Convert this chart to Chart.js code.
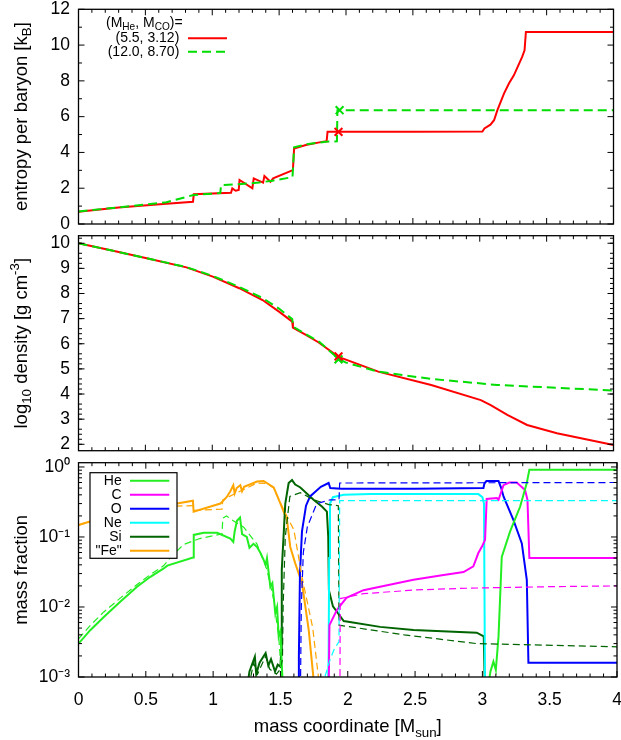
<!DOCTYPE html>
<html><head><meta charset="utf-8">
<script src="https://cdn.jsdelivr.net/npm/chart.js@4.4.1/dist/chart.umd.min.js"></script>
<style>
html,body{margin:0;padding:0;background:#fff;width:621px;height:740px;overflow:hidden}
canvas{position:absolute;left:0}
</style></head><body>
<canvas id="c1" width="621" height="236" style="top:0px"></canvas>
<canvas id="c2" width="621" height="232" style="top:228px"></canvas>
<canvas id="c3" width="621" height="285" style="top:455px"></canvas>
<script>
// ---------- tick labels ----------
const massTicks = [0, 0.5, 1, 1.5, 2, 2.5, 3, 3.5, 4];
const massTickLabels = ['0', '0.5', '1', '1.5', '2', '2.5', '3', '3.5', '4'];
const entropyTicks = [0, 2, 4, 6, 8, 10, 12];
const densityTicks = [2, 3, 4, 5, 6, 7, 8, 9, 10];
const fractionTicks = [0.001, 0.01, 0.1, 1];
const fractionTickLabels = ['10\u207B\u00B3', '10\u207B\u00B2', '10\u207B\u00B9', '10\u2070'];

// ---------- series names ----------
const modelLabels = ['(5.5, 3.12)', '(12.0, 8.70)'];
const elementLabels = ['He', 'C', 'O', 'Ne', 'Si', '"Fe"'];

// ---------- entropy panel ----------
const entropyMassA = [0, 0.3, 0.633, 0.856, 0.862, 1.14, 1.15, 1.175, 1.198, 1.204, 1.30, 1.31, 1.38, 1.39, 1.435, 1.455, 1.603, 1.612, 1.70, 1.82, 1.855, 1.862, 2.5, 3.02, 3.035, 3.08, 3.107, 3.132, 3.181, 3.218, 3.255, 3.317, 3.335, 3.345, 4.0];
const entropyA = [0.69, 0.92, 1.12, 1.245, 1.66, 1.75, 1.99, 1.86, 1.90, 2.46, 1.99, 2.55, 2.31, 2.68, 2.36, 2.55, 3.01, 4.22, 4.42, 4.59, 4.62, 5.15, 5.15, 5.17, 5.34, 5.55, 5.80, 6.36, 7.29, 7.85, 8.31, 9.34, 9.71, 10.73, 10.73];
const entropyMassB = [0, 0.3, 0.658, 0.86, 1.06, 1.066, 1.2, 1.35, 1.45, 1.6, 1.612, 1.7, 1.85, 1.932, 1.936, 4.0];
const entropyB = [0.70, 0.93, 1.22, 1.62, 1.73, 2.18, 2.22, 2.32, 2.42, 2.62, 4.29, 4.45, 4.60, 4.62, 6.36, 6.36];
const markerMass = [1.944, 1.952];
const markerEntropy = [5.15, 6.36];

// ---------- density panel ----------
const densityMassA = [0, 0.25, 0.51, 0.807, 1.004, 1.202, 1.376, 1.499, 1.598, 1.603, 1.70, 1.796, 1.944, 2.241, 2.637, 3.008, 3.082, 3.206, 3.354, 3.577, 4.0];
const densityA = [10.0, 9.71, 9.40, 9.04, 8.67, 8.21, 7.74, 7.28, 6.88, 6.64, 6.35, 6.05, 5.48, 4.89, 4.36, 3.76, 3.56, 3.17, 2.77, 2.44, 1.97];
const densityMassB = [0, 0.25, 0.51, 0.807, 1.004, 1.202, 1.376, 1.499, 1.598, 1.605, 1.70, 1.80, 1.944, 2.0, 2.241, 2.637, 3.132, 3.6, 4.0];
const densityB = [10.0, 9.71, 9.40, 9.05, 8.70, 8.26, 7.82, 7.40, 6.98, 6.68, 6.38, 6.08, 5.40, 5.25, 4.89, 4.60, 4.36, 4.24, 4.14];
const markerDensity = [5.50, 5.38];

// ---------- mass fraction panel (A = solid, B = dashed) ----------
const heMassA = [0, 0.089, 0.188, 0.312, 0.435, 0.534, 0.633, 0.66, 0.851, 0.856, 0.93, 1.03, 1.128, 1.15, 1.16, 1.177, 1.20, 1.215, 1.25, 1.27, 1.30, 1.326, 1.35, 1.375, 1.39, 1.40, 1.425, 1.44, 1.462, 1.475, 1.487, 1.50, 1.512, 1.522, 3.03, 3.06, 3.082, 3.10, 3.12, 3.144, 3.206, 3.28, 3.33, 3.349, 4.0];
const heA = [3.0e-3, 4.7e-3, 7.2e-3, 1.2e-2, 1.95e-2, 2.7e-2, 3.55e-2, 3.9e-2, 5.1e-2, 0.107, 0.115, 0.115, 0.095, 0.085, 0.12, 0.17, 0.19, 0.11, 0.10, 0.07, 0.08, 0.072, 0.06, 0.047, 0.04, 0.05, 0.0195, 0.022, 8.1e-3, 0.01, 3.8e-3, 4.5e-3, 1.26e-3, 5e-4, 5e-4, 1.2e-3, 1.66e-3, 1.26e-3, 3.8e-3, 5.2e-2, 0.12, 0.27, 0.59, 0.91, 0.91];
const heMassB = [0, 0.089, 0.188, 0.312, 0.435, 0.534, 0.633, 0.70, 0.78, 0.90, 1.03, 1.066, 1.072, 1.10, 1.15, 1.227, 1.326, 1.40, 1.45, 1.487, 1.505, 1.52];
const heB = [3.5e-3, 5.5e-3, 8.5e-3, 1.35e-2, 2.1e-2, 2.9e-2, 3.9e-2, 5.5e-2, 7.8e-2, 0.095, 0.107, 0.11, 0.186, 0.20, 0.17, 0.138, 0.079, 0.034, 0.0126, 3.8e-3, 1.26e-3, 5e-4];

const cMassA = [1.858, 1.864, 1.92, 1.99, 2.117, 2.24, 2.488, 2.7, 2.86, 2.933, 2.97, 3.0, 3.02, 3.032, 3.107, 3.12, 3.157, 3.2, 3.255, 3.317, 3.335, 3.349, 4.0];
const cA = [5e-4, 5.5e-3, 9.1e-3, 1.35e-2, 1.74e-2, 1.95e-2, 2.45e-2, 2.85e-2, 3.16e-2, 3.8e-2, 5.9e-2, 7.5e-2, 9.1e-2, 0.35, 0.36, 0.34, 0.55, 0.60, 0.60, 0.47, 0.34, 0.05, 0.05];
const cMassB = [1.942, 1.944, 2.117, 2.5, 2.909, 3.5, 4.0];
const cB = [5e-4, 1.32e-2, 1.55e-2, 1.75e-2, 1.86e-2, 1.95e-2, 2.0e-2];

const oMassA = [1.632, 1.637, 1.645, 1.66, 1.69, 1.72, 1.80, 1.858, 1.87, 1.95, 2.5, 3.008, 3.015, 3.03, 3.12, 3.14, 3.157, 3.231, 3.293, 3.33, 3.342, 4.0];
const oA = [5e-4, 2e-3, 0.03, 0.12, 0.28, 0.38, 0.52, 0.59, 0.50, 0.49, 0.49, 0.50, 0.58, 0.63, 0.63, 0.50, 0.38, 0.174, 0.081, 0.0245, 1.6e-3, 1.6e-3];
const oMassB = [1.648, 1.655, 1.67, 1.70, 1.77, 1.87, 1.935, 1.94, 4.0];
const oB = [5e-4, 0.01, 0.06, 0.14, 0.30, 0.34, 0.34, 0.59, 0.60];

const neMassA = [1.852, 1.858, 1.862, 1.868, 1.89, 1.97, 2.17, 2.97, 3.0, 3.012, 3.02];
const neA = [5e-4, 2e-3, 0.05, 0.30, 0.37, 0.40, 0.41, 0.41, 0.37, 0.30, 5e-4];
const neMassB = [1.80, 1.83, 1.87, 1.90, 1.935, 1.94, 4.0];
const neB = [5e-4, 1.0e-3, 1.8e-3, 2.5e-3, 3.2e-3, 0.33, 0.33];

const siMassA = [1.24, 1.27, 1.31, 1.32, 1.345, 1.39, 1.41, 1.43, 1.46, 1.48, 1.50, 1.505, 1.51, 1.536, 1.561, 1.586, 1.61, 1.648, 1.746, 1.81, 1.845, 1.855, 1.86, 1.89, 1.97, 2.24, 2.488, 2.958, 3.01, 3.02];
const siA = [5e-4, 1.2e-3, 1.95e-3, 1.1e-3, 1.6e-3, 2.2e-3, 1.45e-3, 1.8e-3, 1.2e-3, 1.5e-3, 1.4e-3, 2.2e-3, 3.4e-2, 0.30, 0.59, 0.65, 0.56, 0.51, 0.34, 0.27, 0.23, 0.10, 1.74e-2, 1.02e-2, 6.3e-3, 5.2e-3, 4.7e-3, 4.3e-3, 3.8e-3, 5e-4];
const siMassB = [1.25, 1.30, 1.33, 1.39, 1.42, 1.47, 1.50, 1.515, 1.52, 1.536, 1.57, 1.648, 1.746, 1.86, 1.93, 1.935, 2.42, 2.958, 4.0];
const siB = [5e-4, 1.6e-3, 1.1e-3, 2.0e-3, 1.3e-3, 1.1e-3, 1.3e-3, 1.8e-3, 1.0e-2, 0.10, 0.38, 0.43, 0.34, 0.29, 0.28, 5.5e-3, 4.0e-3, 3.0e-3, 2.7e-3];

const feMassA = [0, 0.2, 0.435, 0.732, 0.85, 0.855, 1.054, 1.10, 1.128, 1.15, 1.16, 1.175, 1.202, 1.215, 1.23, 1.326, 1.375, 1.45, 1.50, 1.549, 1.573, 1.61, 1.66, 1.71, 1.76];
const feA = [0.148, 0.195, 0.245, 0.30, 0.33, 0.23, 0.30, 0.37, 0.45, 0.55, 0.42, 0.50, 0.55, 0.45, 0.52, 0.62, 0.63, 0.51, 0.30, 0.174, 0.072, 0.042, 0.022, 4.7e-3, 5e-4];
const feMassB = [0, 0.2, 0.435, 0.68, 0.85, 0.86, 1.066, 1.072, 1.2, 1.326, 1.40, 1.45, 1.524, 1.6, 1.66, 1.74, 1.80];
const feB = [0.148, 0.19, 0.235, 0.275, 0.28, 0.24, 0.25, 0.34, 0.45, 0.59, 0.58, 0.50, 0.245, 0.126, 0.027, 5e-3, 5e-4];

// ---------- styling ----------
const FONT = '"Liberation Sans", Arial, Helvetica, sans-serif';
Chart.defaults.font.family = FONT;
Chart.defaults.color = '#000';
const RED = '#ff0000', GREEN = '#00dd00';
const elementColors = ['#22ee22', '#ff00ff', '#0000ff', '#00ffff', '#006400', '#ffa500'];

function pts(xs, ys) { return xs.map((x, i) => ({ x: x, y: ys[i] })); }

function drawRich(ctx, segs, x, y, size, align) {
  const fs = m => (m ? size * 0.72 : size);
  let total = 0;
  segs.forEach(s => { ctx.font = fs(s[1]) + 'px ' + FONT; total += ctx.measureText(s[0]).width; });
  let cx = align === 'center' ? x - total / 2 : (align === 'right' ? x - total : x);
  ctx.textAlign = 'left';
  ctx.textBaseline = 'middle';
  segs.forEach(s => {
    ctx.font = fs(s[1]) + 'px ' + FONT;
    const dy = s[1] === 1 ? size * 0.32 : (s[1] === 2 ? -size * 0.36 : 0);
    ctx.fillText(s[0], cx, y + dy);
    cx += ctx.measureText(s[0]).width;
  });
}

function range(a, b, step, skipEvery) {
  const out = [];
  for (let i = 0; a + i * step <= b + 1e-9; i++) {
    if (skipEvery && i % skipEvery === 0) continue;
    out.push(+(a + i * step).toFixed(6));
  }
  return out;
}
const massMinor = range(0, 4, 0.1, 5);
const logMinor = [];
[0.001, 0.01, 0.1, 1].forEach(d => { for (let k = 2; k <= 9; k++) logMinor.push(d * k); });

const decor = {
  id: 'decor',
  afterDatasetsDraw(chart, args, o) {
    const ctx = chart.ctx, a = chart.chartArea, xs = chart.scales.x, ys = chart.scales.y;
    ctx.save();
    ctx.strokeStyle = '#000';
    ctx.lineWidth = 1;
    ctx.beginPath();
    const tk = (px, py, dx, dy) => { ctx.moveTo(px, py); ctx.lineTo(px + dx, py + dy); };
    const inY = v => v >= ys.min - 1e-9 && v <= ys.max + 1e-9;
    massTicks.forEach(v => { const p = xs.getPixelForValue(v); tk(p, a.bottom, 0, -6); tk(p, a.top, 0, 6); });
    massMinor.forEach(v => { const p = xs.getPixelForValue(v); tk(p, a.bottom, 0, -3.5); tk(p, a.top, 0, 3.5); });
    o.yMajor.filter(inY).forEach(v => { const p = ys.getPixelForValue(v); tk(a.left, p, 6, 0); tk(a.right, p, -6, 0); });
    o.yMinor.filter(inY).forEach(v => { const p = ys.getPixelForValue(v); tk(a.left, p, 3.5, 0); tk(a.right, p, -3.5, 0); });
    ctx.stroke();
    ctx.lineWidth = 1.3;
    ctx.strokeRect(a.left, a.top, a.right - a.left, a.bottom - a.top);
    ctx.restore();
  },
  afterDraw(chart, args, o) {
    const ctx = chart.ctx, a = chart.chartArea;
    ctx.save();
    ctx.fillStyle = '#000';
    ctx.translate(21.5, (a.top + a.bottom) / 2);
    ctx.rotate(-Math.PI / 2);
    drawRich(ctx, o.yTitle, 0, 0, 18.5, 'center');
    ctx.restore();
    if (o.xTitle) {
      ctx.save(); ctx.fillStyle = '#000';
      drawRich(ctx, o.xTitle, (a.left + a.right) / 2, a.bottom + 50, 18.5, 'center');
      ctx.restore();
    }
    if (o.legend) { ctx.save(); o.legend(ctx, chart); ctx.restore(); }
  }
};

function xAxis(show) {
  return {
    type: 'linear', min: 0, max: 4, display: show, bounds: 'data',
    grid: { display: false, drawTicks: false }, border: { display: false },
    afterFit: s => { s.height = show ? 63 : 0; s.paddingLeft = 0; s.paddingRight = 0; },
    afterBuildTicks: s => { s.ticks = massTicks.map(v => ({ value: v })); },
    ticks: { padding: 12.5, font: { size: 17.5 }, color: '#000', maxRotation: 0, autoSkip: false,
      callback: (v, i) => massTickLabels[i] }
  };
}
function yAxis(type, min, max, ticks, labels) {
  return {
    type: type, min: min, max: max, position: 'left', bounds: 'data',
    grid: { display: false, drawTicks: false }, border: { display: false },
    afterFit: s => { s.width = 78.5; s.paddingTop = 0; s.paddingBottom = 0; },
    afterBuildTicks: s => { s.ticks = ticks.map(v => ({ value: v })); },
    ticks: { padding: 8.5, font: { size: 17.5 }, color: '#000', autoSkip: false,
      callback: (v, i) => labels[i] }
  };
}
function lineDs(xs, ys, color, width, dash, order) {
  return { data: pts(xs, ys), borderColor: color, backgroundColor: color, borderWidth: width,
    borderDash: dash || [], pointRadius: 0, tension: 0, fill: false, order: order || 0, spanGaps: true };
}
function markerDs(x, y, color) {
  return { data: [{ x: x, y: y }], showLine: false, pointStyle: 'crossRot', pointRadius: 5.5,
    pointBorderWidth: 2, borderColor: color, backgroundColor: color, order: -1 };
}
const common = {
  responsive: false, animation: false, devicePixelRatio: 1,
  plugins: { legend: { display: false }, tooltip: { enabled: false } },
  events: []
};

// ---------- panel 1: entropy ----------
new Chart(document.getElementById('c1'), {
  type: 'line',
  data: { datasets: [
    lineDs(entropyMassB, entropyB, GREEN, 2, [9, 5], 0),
    lineDs(entropyMassA, entropyA, RED, 2, [], 1),
    markerDs(markerMass[0], markerEntropy[0], RED),
    markerDs(markerMass[1], markerEntropy[1], GREEN)
  ] },
  options: Object.assign({}, common, {
    layout: { padding: { top: 9.3, bottom: 12, left: 0, right: 4 } },
    scales: { x: xAxis(false), y: yAxis('linear', 0, 12, entropyTicks, entropyTicks.map(String)) },
    plugins: Object.assign({}, common.plugins, { decor: {
      yMajor: entropyTicks, yMinor: range(1, 11, 2),
      yTitle: [['entropy per baryon [k', 0], ['B', 1], [']', 0]],
      legend: (ctx) => {
        ctx.fillStyle = '#000';
        drawRich(ctx, [['(M', 0], ['He', 1], [', M', 0], ['CO', 1], [')=', 0]], 106, 22.7, 14, 'left');
        drawRich(ctx, [[modelLabels[0], 0]], 179.3, 38.3, 14, 'right');
        drawRich(ctx, [[modelLabels[1], 0]], 179.3, 51.7, 14, 'right');
        ctx.lineWidth = 2;
        ctx.strokeStyle = RED; ctx.beginPath(); ctx.moveTo(188, 38.3); ctx.lineTo(227, 38.3); ctx.stroke();
        ctx.strokeStyle = GREEN; ctx.setLineDash([9, 5]); ctx.beginPath(); ctx.moveTo(188, 51.7); ctx.lineTo(227, 51.7); ctx.stroke();
      }
    } })
  }),
  plugins: [decor]
});

// ---------- panel 2: density ----------
new Chart(document.getElementById('c2'), {
  type: 'line',
  data: { datasets: [
    lineDs(densityMassB, densityB, GREEN, 2, [9, 5], 0),
    lineDs(densityMassA, densityA, RED, 2, [], 1),
    markerDs(markerMass[0], markerDensity[0], RED),
    markerDs(markerMass[0], markerDensity[1], GREEN)
  ] },
  options: Object.assign({}, common, {
    layout: { padding: { top: 7.7, bottom: 9.3, left: 0, right: 4 } },
    scales: { x: xAxis(false), y: yAxis('linear', 1.745, 10.30, densityTicks, densityTicks.map(String)) },
    plugins: Object.assign({}, common.plugins, { decor: {
      yMajor: densityTicks, yMinor: range(1.8, 10.2, 0.2, 5),
      yTitle: [['log', 0], ['10', 1], [' density [g cm', 0], ['-3', 2], [']', 0]]
    } })
  }),
  plugins: [decor]
});

// ---------- panel 3: mass fraction ----------
const fracA = [[heMassA, heA], [cMassA, cA], [oMassA, oA], [neMassA, neA], [siMassA, siA], [feMassA, feA]];
const fracB = [[heMassB, heB], [cMassB, cB], [oMassB, oB], [neMassB, neB], [siMassB, siB], [feMassB, feB]];
const ds3 = [];
fracB.forEach((s, i) => ds3.push(lineDs(s[0], s[1], elementColors[i], 1.2, [7, 4], 0)));
fracA.forEach((s, i) => ds3.push(lineDs(s[0], s[1], elementColors[i], 2, [], 1)));

new Chart(document.getElementById('c3'), {
  type: 'line',
  data: { datasets: ds3 },
  options: Object.assign({}, common, {
    layout: { padding: { top: 7.7, bottom: 0, left: 0, right: 4 } },
    scales: { x: xAxis(true), y: yAxis('logarithmic', 0.001, 1.151, fractionTicks, fractionTickLabels) },
    plugins: Object.assign({}, common.plugins, { decor: {
      yMajor: fractionTicks, yMinor: logMinor,
      yTitle: [['mass fraction', 0]],
      xTitle: [['mass coordinate [M', 0], ['sun', 1], [']', 0]],
      legend: (ctx) => {
        ctx.fillStyle = '#fff';
        ctx.fillRect(90, 17.7, 87, 85.6);
        ctx.strokeStyle = '#000'; ctx.lineWidth = 1.2;
        ctx.strokeRect(90, 17.7, 87, 85.6);
        elementLabels.forEach((lab, i) => {
          const y = 25.7 + i * 14;
          ctx.fillStyle = '#000';
          drawRich(ctx, [[lab, 0]], 121.7, y, 14, 'right');
          ctx.strokeStyle = elementColors[i]; ctx.lineWidth = 2;
          ctx.beginPath(); ctx.moveTo(130, y); ctx.lineTo(169.3, y); ctx.stroke();
        });
      }
    } })
  }),
  plugins: [decor]
});
</script></body></html>
